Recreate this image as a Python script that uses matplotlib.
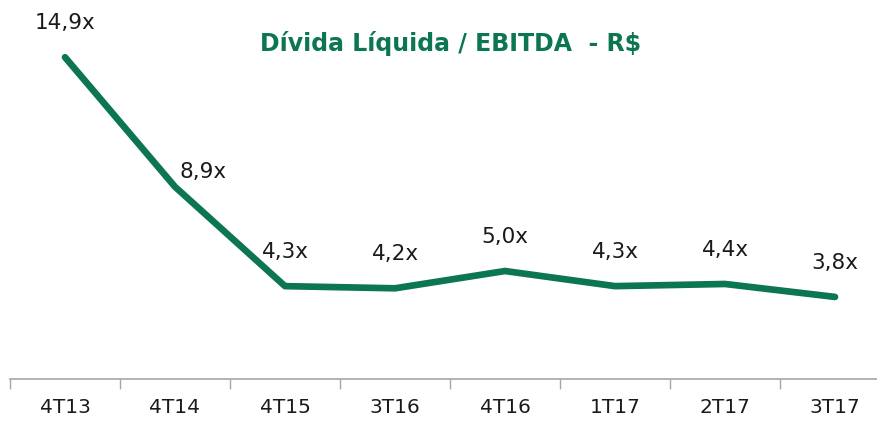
import numpy as np
import matplotlib.pyplot as plt

# data
quarters = ['4T13', '4T14', '4T15', '3T16', '4T16', '1T17', '2T17', '3T17']
ratio = [14.9, 8.9, 4.3, 4.2, 5.0, 4.3, 4.4, 3.8]
labels = ['14,9x', '8,9x', '4,3x', '4,2x', '5,0x', '4,3x', '4,4x', '3,8x']

green = '#0b7650'

fig = plt.figure(figsize=(8.77, 4.21), dpi=100)
ax = fig.add_axes([10/877, 42/421, 880/877, 379/421])

x = np.arange(len(quarters))
ax.plot(x, ratio, color=green, linewidth=4.8, solid_capstyle='round', solid_joinstyle='round')

# value labels above points (4T14 label sits to the right of the line)
for i, (v, s) in enumerate(zip(ratio, labels)):
    off = (28, 15) if i == 1 else (0, 34)
    ax.annotate(s, (x[i], v), xytext=off, textcoords='offset pixels',
                ha='center', va='center', fontsize=15.5, color='#1a1a1a')

ax.set_xlim(-0.5, len(quarters) - 0.5)
ax.set_ylim(0, 17.55)

# axis styling
for side in ['top', 'right', 'left']:
    ax.spines[side].set_visible(False)
ax.spines['bottom'].set_color('#a6a6a6')
ax.spines['bottom'].set_linewidth(1.2)
ax.set_yticks([])
ax.set_xticks(np.arange(len(quarters)) - 0.5, minor=False)
ax.set_xticklabels([])
ax.tick_params(axis='x', which='major', length=7, color='#a6a6a6', width=1)
ax.set_xticks(x, minor=True)
ax.set_xticklabels(quarters, minor=True, fontsize=14.5, color='#1a1a1a')
ax.tick_params(axis='x', which='minor', length=0, pad=14)

fig.text(451/877, 1 - 44/421, 'Dívida Líquida / EBITDA  - R$', ha='center', va='center',
         fontsize=17, fontweight='bold', color=green)

fig.savefig('out.png', dpi=100)
